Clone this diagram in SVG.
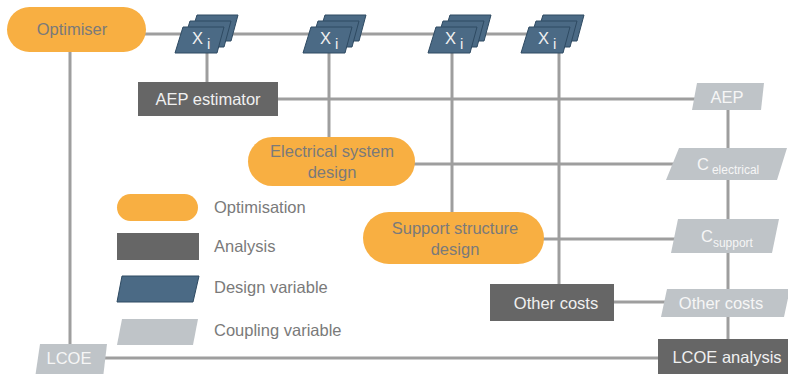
<svg xmlns="http://www.w3.org/2000/svg" xmlns:xlink="http://www.w3.org/1999/xlink" width="788" height="374" viewBox="0 0 788 374">
<style>
text{font-family:"Liberation Sans",Arial,sans-serif;font-size:16.5px}
.opt{fill:#F8AF42}
.ana{fill:#666666}
.dv{fill:#4B6A85;stroke:#2E4A62;stroke-width:1}
.cv{fill:#BFC4C8}
.tg{fill:#7a7a7a}
.tw{fill:#f0f0f0}
.tc{fill:#f6f6f6}
.lg{fill:#7a7a7a}
.con line{stroke:#9e9e9e;stroke-width:3}
</style>
<defs>
<g id="stack">
<polygon class="dv" points="14,-12 22,-38 63,-38 56,-12"/>
<polygon class="dv" points="7,-6 15,-32 56,-32 49,-6"/>
<polygon class="dv" points="0,0 8,-26 49,-26 42,0"/>
</g>
</defs>
<rect width="788" height="374" fill="#ffffff"/>
<g id="connectors" class="con">
<line x1="140" y1="34" x2="560" y2="34"/>
<line x1="70" y1="50" x2="70" y2="350"/>
<line x1="207" y1="34" x2="207" y2="84"/>
<line x1="329" y1="34" x2="329" y2="140"/>
<line x1="452" y1="34" x2="452" y2="215"/>
<line x1="559" y1="34" x2="559" y2="286"/>
<line x1="276" y1="99" x2="696" y2="99"/>
<line x1="413" y1="164" x2="674" y2="164"/>
<line x1="542" y1="239" x2="676" y2="239"/>
<line x1="612" y1="302" x2="666" y2="302"/>
<line x1="100" y1="358" x2="660" y2="358"/>
<line x1="728" y1="100" x2="728" y2="342"/>
</g>
<g id="optimiser">
<rect class="opt" x="7" y="7" width="139" height="45" rx="22.5"/>
<text class="tg" x="72" y="35" text-anchor="middle">Optimiser</text>
</g>
<g id="x1">
<use xlink:href="#stack" transform="translate(175,53)"/>
<text class="tw" x="192" y="44">X<tspan dx="4" dy="5" font-size="15">i</tspan></text>
</g>
<g id="x2">
<use xlink:href="#stack" transform="translate(303,53)"/>
<text class="tw" x="320" y="44">X<tspan dx="4" dy="5" font-size="15">i</tspan></text>
</g>
<g id="x3">
<use xlink:href="#stack" transform="translate(428,53)"/>
<text class="tw" x="445" y="44">X<tspan dx="4" dy="5" font-size="15">i</tspan></text>
</g>
<g id="x4">
<use xlink:href="#stack" transform="translate(521,53)"/>
<text class="tw" x="538" y="44">X<tspan dx="4" dy="5" font-size="15">i</tspan></text>
</g>
<g id="aep-estimator">
<rect class="ana" x="138" y="82" width="140" height="34"/>
<text class="tw" x="208" y="105" text-anchor="middle">AEP estimator</text>
</g>
<g id="electrical">
<rect class="opt" x="248" y="137" width="167" height="49" rx="24.5"/>
<text class="tg" x="332" y="157" text-anchor="middle">Electrical system</text>
<text class="tg" x="332" y="178" text-anchor="middle">design</text>
</g>
<g id="support">
<rect class="opt" x="363" y="212" width="181" height="52" rx="26"/>
<text class="tg" x="455" y="234" text-anchor="middle">Support structure</text>
<text class="tg" x="455" y="255" text-anchor="middle">design</text>
</g>
<g id="other-costs">
<rect class="ana" x="490" y="284" width="124" height="37"/>
<text class="tw" x="556" y="309" text-anchor="middle">Other costs</text>
</g>
<g id="lcoe-analysis">
<rect class="ana" x="658" y="339" width="132" height="40"/>
<text class="tw" x="727" y="363" text-anchor="middle">LCOE analysis</text>
</g>
<g id="aep">
<polygon class="cv" points="697,83 764,83 761,110 692,110"/>
<text class="tc" x="727" y="103" text-anchor="middle">AEP</text>
</g>
<g id="c-electrical">
<polygon class="cv" points="679,148 787,148 777,180 666,180"/>
<text class="tc" x="697" y="170">C<tspan dx="3" dy="4" font-size="12">electrical</tspan></text>
</g>
<g id="c-support">
<polygon class="cv" points="678,219 779,219 772,253 671,253"/>
<text class="tc" x="701" y="242">C<tspan dy="5" font-size="12">support</tspan></text>
</g>
<g id="other-costs-var">
<polygon class="cv" points="667,289 790,289 784,317 661,317"/>
<text class="tc" x="721" y="309" text-anchor="middle">Other costs</text>
</g>
<g id="lcoe">
<polygon class="cv" points="40,344 107,344 103,378 35,378"/>
<text class="tc" x="69" y="364" text-anchor="middle">LCOE</text>
</g>
<g id="legend">
<rect class="opt" x="117" y="194" width="81" height="27" rx="13.5"/>
<text class="lg" x="214" y="213">Optimisation</text>
<rect class="ana" x="117" y="233" width="82" height="27"/>
<text class="lg" x="214" y="252">Analysis</text>
<polygon class="dv" points="122,276 199,276 193,302 117,302"/>
<text class="lg" x="214" y="293">Design variable</text>
<polygon class="cv" points="122,319 198,319 193,345 117,345"/>
<text class="lg" x="214" y="336">Coupling variable</text>
</g>
</svg>
